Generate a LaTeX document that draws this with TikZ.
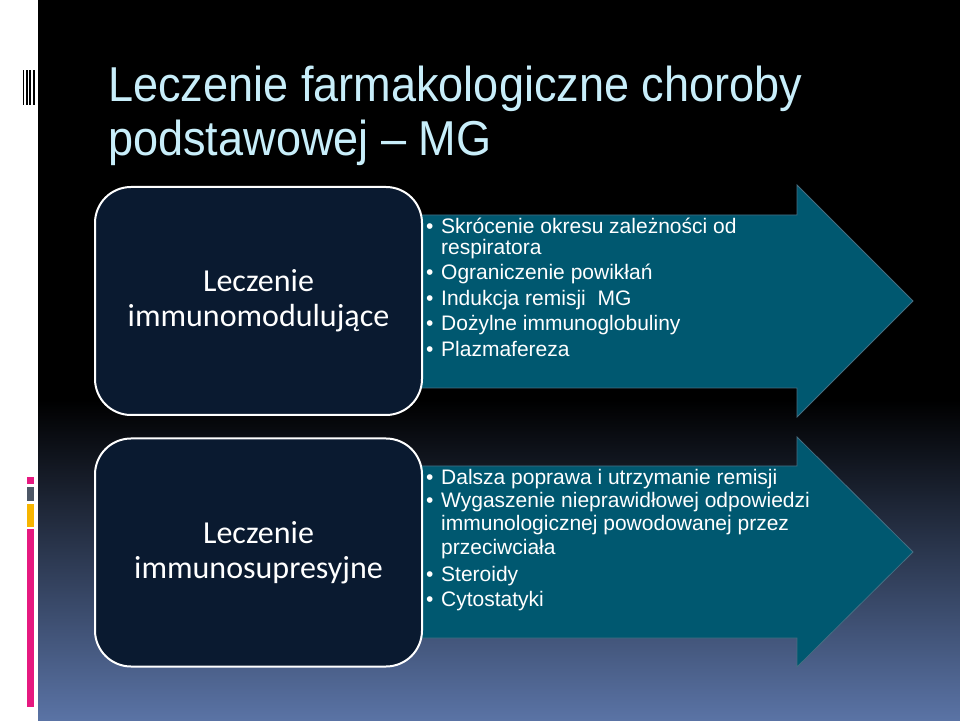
\documentclass[tikz,border=0pt]{standalone}
\usepackage{fontspec}
\setmainfont{Liberation Sans}
\newfontfamily\titlefont[FakeStretch=0.92]{Liberation Sans}
\newfontfamily\boxfont{Carlito}
\definecolor{ink}{RGB}{255,255,255}
\definecolor{titleblue}{RGB}{200,238,250}
\definecolor{navy}{RGB}{10,26,48}
\definecolor{stagefill}{RGB}{0,88,112}
\definecolor{stageedge}{RGB}{70,110,130}
\definecolor{deepblue}{RGB}{30,36,56}
\definecolor{slate}{RGB}{90,115,165}
\definecolor{barpink}{RGB}{230,25,128}
\definecolor{bargray}{RGB}{77,87,102}
\definecolor{baryellow}{RGB}{247,181,0}

\begin{document}
\begin{tikzpicture}[x=1pt,y=1pt,line join=miter,
  arrowshape/.style={fill=stagefill,draw=stageedge,line width=.8pt},
  stagebox/.style={draw=ink,line width=2pt,fill=navy,rounded corners=36pt,minimum width=327pt,minimum height=228pt,inner sep=0pt,align=center,text=ink,font=\boxfont\fontsize{32}{35}\selectfont},
  item/.style={anchor=base west,text=ink,inner sep=0pt,font=\fontsize{21}{22}\selectfont},
  titleline/.style={anchor=base west,text=titleblue,inner sep=0pt,font=\titlefont\fontsize{49}{54}\selectfont}]
\useasboundingbox (0,0) rectangle (960,720);
\fill[white] (0,0) rectangle (38,720);
\fill[black] (38,0) rectangle (960,720);
\shade[top color=black,middle color=deepblue,bottom color=slate] (38,0) rectangle (960,320);
\fill[black] (22.7,615) rectangle (24.3,650);
\fill[black] (26.2,615) rectangle (27.7,650);
\fill[black] (29.3,615) rectangle (30.8,650);
\fill[black] (32.7,615) rectangle (35,650);
\fill[barpink] (26.7,235.7) rectangle (34.3,243.3);
\fill[bargray] (26.7,219) rectangle (34.3,233.3);
\fill[baryellow] (26.7,192.7) rectangle (34.3,216);
\fill[barpink] (26.7,13.3) rectangle (34.3,190.7);
\node[titleline] (title1) at (108,618) {Leczenie farmakologiczne choroby};
\node[titleline] (title2) at (108,564) {podstawowej – MG};
\path[arrowshape] (400,505) -- (797,505) -- (797,535) -- (913,419) -- (797,303) -- (797,332) -- (400,332) -- cycle;
\path[arrowshape] (400,254) -- (797,254) -- (797,283) -- (913,168) -- (797,53) -- (797,82) -- (400,82) -- cycle;
\node[stagebox] (modul) at (258.5,419) {Leczenie\\immunomodulujące};
\node[stagebox] (supres) at (258.5,167.5) {Leczenie\\immunosupresyjne};
\node[item] (skr) at (426,486) {\makebox[15pt][l]{•}Skrócenie okresu zależności od};
\node[item] (resp) at (441,465) {respiratora};
\node[item] (ogr) at (426,440) {\makebox[15pt][l]{•}Ograniczenie powikłań};
\node[item] (ind) at (426,414) {\makebox[15pt][l]{•}Indukcja remisji\ \ MG};
\node[item] (doz) at (426,389) {\makebox[15pt][l]{•}Dożylne immunoglobuliny};
\node[item] (plaz) at (426,363) {\makebox[15pt][l]{•}Plazmafereza};
\node[item] (dal) at (426,235) {\makebox[15pt][l]{•}Dalsza poprawa i utrzymanie remisji};
\node[item] (wyg) at (426,212) {\makebox[15pt][l]{•}Wygaszenie nieprawidłowej odpowiedzi};
\node[item] (imm) at (441,189) {immunologicznej powodowanej przez};
\node[item] (prz) at (441,165) {przeciwciała};
\node[item] (ster) at (426,139) {\makebox[15pt][l]{•}Steroidy};
\node[item] (cyt) at (426,114) {\makebox[15pt][l]{•}Cytostatyki};
\end{tikzpicture}
\end{document}
